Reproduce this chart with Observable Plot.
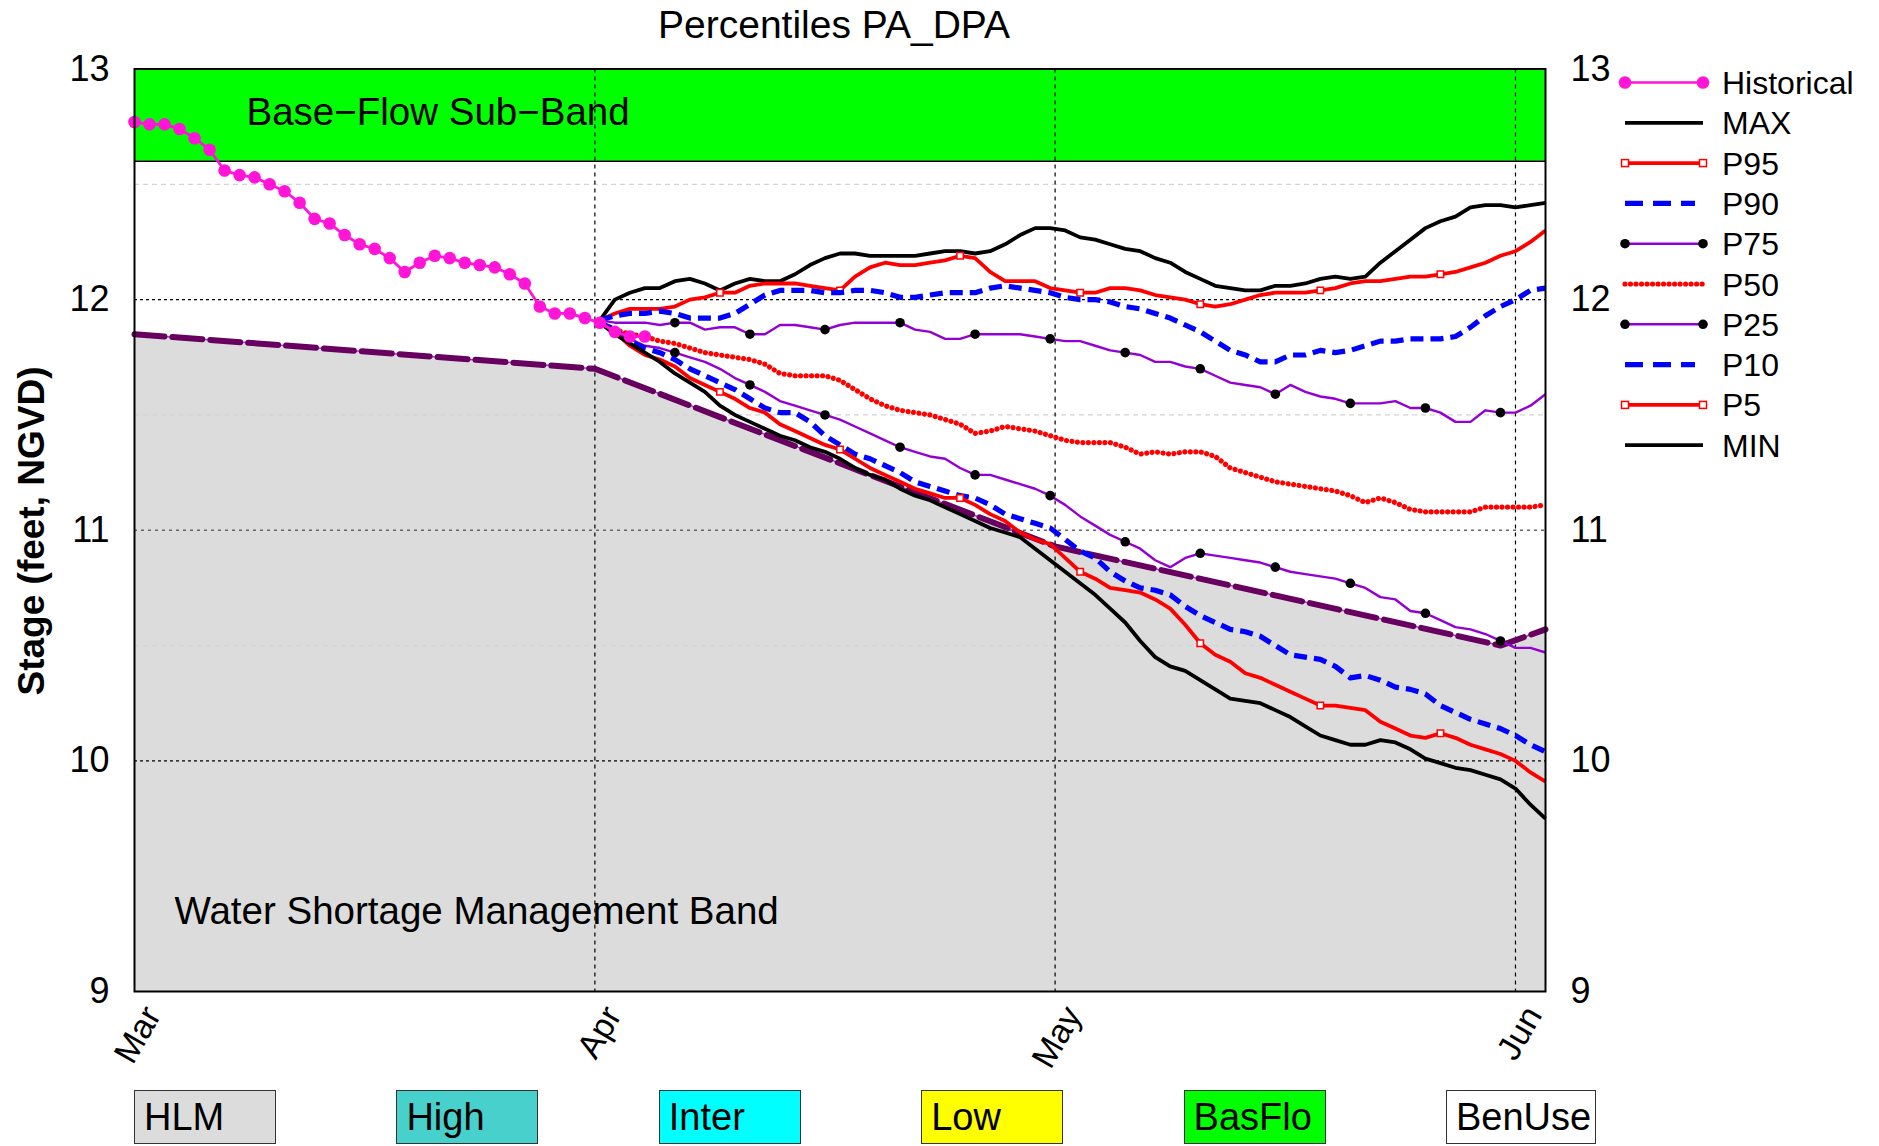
<!DOCTYPE html>
<html><head><meta charset="utf-8">
<script src="https://cdn.jsdelivr.net/npm/d3@7"></script>
<script src="https://cdn.jsdelivr.net/npm/@observablehq/plot@0.6"></script>
<style>
body{margin:0;background:#fff;}
#wrap{position:relative;width:1879px;height:1146px;overflow:hidden;font-family:"Liberation Sans",Arial,sans-serif;background:#fff;}
#title{position:absolute;left:0;top:5px;width:1668px;text-align:center;font-size:39px;line-height:39px;}
#ylab{position:absolute;left:-168px;top:511px;width:400px;height:40px;line-height:40px;text-align:center;font-size:37px;font-weight:bold;transform:rotate(-90deg);}
#chart{position:absolute;left:0;top:0;}
#legend{position:absolute;left:1600px;top:55px;}
.box{position:absolute;top:1090px;height:54px;box-sizing:border-box;min-width:142px;padding:0 4px 0 9px;border:1.5px solid #333;font-size:38px;line-height:52px;white-space:nowrap;}
</style></head>
<body>
<div id="wrap">
  <div id="chart"></div>
  <div id="title">Percentiles PA_DPA</div>
  <div id="ylab">Stage (feet, NGVD)</div>
  <div id="legend"></div>
  <div id="boxes"></div>
</div>
<script>
// ---------- data ----------
const monthLabels = ["Mar", "Apr", "May", "Jun"];
const monthTickDays = [0, 30.67, 61.33, 92];   // equally spaced month ticks (days since Mar 1)
const xStart = 0, xEnd = 94;
const stageTicks = [9, 10, 11, 12, 13];
const minorGrid = [12.5, 11.5, 10.5];
const baseFlowBand = [{lo: 12.6, hi: 13.0}];

// water shortage management band upper edge
const wsmDays  = [0, 30.67, 61.33, 91, 94];
const wsmStage = [11.85, 11.70, 10.93, 10.50, 10.57];

// historical (daily from Mar 1)
const histStage = [12.77, 12.76, 12.76, 12.74, 12.70, 12.65, 12.56, 12.54, 12.53, 12.50,
  12.47, 12.42, 12.35, 12.33, 12.28, 12.24, 12.22, 12.18, 12.12, 12.16,
  12.19, 12.18, 12.16, 12.15, 12.14, 12.11, 12.07, 11.97, 11.94, 11.94,
  11.92, 11.90, 11.86, 11.84, 11.84];

// percentiles (daily from day 31)
const pctStartDay = 31;
const maxStage = [11.91, 12.00, 12.03, 12.05, 12.05, 12.08, 12.09, 12.07, 12.04, 12.07,
  12.09, 12.08, 12.08, 12.11, 12.15, 12.18, 12.20, 12.20, 12.19, 12.19,
  12.19, 12.19, 12.20, 12.21, 12.21, 12.20, 12.21, 12.24, 12.28, 12.31,
  12.31, 12.30, 12.27, 12.26, 12.24, 12.22, 12.21, 12.18, 12.16, 12.12,
  12.09, 12.06, 12.05, 12.04, 12.04, 12.06, 12.06, 12.07, 12.09, 12.10,
  12.09, 12.10, 12.16, 12.21, 12.26, 12.31, 12.34, 12.36, 12.40, 12.41,
  12.41, 12.40, 12.41, 12.42];
const p95Stage = [11.91, 11.94, 11.96, 11.96, 11.96, 11.97, 12.00, 12.01, 12.03, 12.03,
  12.06, 12.07, 12.07, 12.07, 12.06, 12.05, 12.04, 12.10, 12.14, 12.16,
  12.15, 12.15, 12.16, 12.17, 12.19, 12.18, 12.12, 12.08, 12.08, 12.08,
  12.05, 12.04, 12.03, 12.03, 12.05, 12.05, 12.04, 12.02, 12.01, 12.00,
  11.98, 11.97, 11.98, 12.00, 12.02, 12.03, 12.03, 12.03, 12.04, 12.05,
  12.07, 12.08, 12.08, 12.09, 12.10, 12.10, 12.11, 12.12, 12.14, 12.16,
  12.19, 12.21, 12.25, 12.30];
const p90Stage = [11.91, 11.93, 11.94, 11.94, 11.95, 11.94, 11.92, 11.92, 11.92, 11.94,
  11.98, 12.02, 12.04, 12.04, 12.04, 12.03, 12.03, 12.04, 12.04, 12.03,
  12.01, 12.01, 12.02, 12.03, 12.03, 12.03, 12.05, 12.06, 12.05, 12.04,
  12.03, 12.01, 12.00, 12.00, 11.99, 11.97, 11.96, 11.94, 11.92, 11.89,
  11.86, 11.82, 11.78, 11.76, 11.73, 11.73, 11.76, 11.76, 11.78, 11.77,
  11.78, 11.80, 11.82, 11.82, 11.83, 11.83, 11.83, 11.84, 11.88, 11.93,
  11.97, 12.00, 12.04, 12.05];
const p75Stage = [11.91, 11.90, 11.90, 11.90, 11.89, 11.90, 11.90, 11.87, 11.88, 11.88,
  11.85, 11.85, 11.89, 11.89, 11.88, 11.87, 11.89, 11.90, 11.90, 11.90,
  11.90, 11.87, 11.86, 11.83, 11.83, 11.85, 11.85, 11.85, 11.85, 11.84,
  11.83, 11.82, 11.82, 11.80, 11.78, 11.77, 11.76, 11.73, 11.73, 11.71,
  11.70, 11.67, 11.64, 11.63, 11.62, 11.59, 11.63, 11.60, 11.58, 11.57,
  11.55, 11.55, 11.55, 11.56, 11.53, 11.53, 11.51, 11.47, 11.47, 11.52,
  11.51, 11.51, 11.54, 11.59];
const p50Stage = [11.90, 11.87, 11.85, 11.84, 11.82, 11.81, 11.79, 11.77, 11.76, 11.75,
  11.74, 11.72, 11.68, 11.67, 11.67, 11.67, 11.65, 11.61, 11.57, 11.54,
  11.52, 11.51, 11.50, 11.48, 11.46, 11.42, 11.43, 11.45, 11.44, 11.43,
  11.41, 11.39, 11.38, 11.38, 11.38, 11.36, 11.33, 11.34, 11.33, 11.34,
  11.34, 11.32, 11.27, 11.25, 11.23, 11.21, 11.20, 11.19, 11.18, 11.17,
  11.15, 11.12, 11.14, 11.12, 11.09, 11.08, 11.08, 11.08, 11.08, 11.10,
  11.10, 11.10, 11.10, 11.11];
const p25Stage = [11.90, 11.86, 11.83, 11.80, 11.79, 11.77, 11.75, 11.73, 11.70, 11.66,
  11.63, 11.60, 11.56, 11.54, 11.52, 11.50, 11.48, 11.45, 11.42, 11.39,
  11.36, 11.34, 11.32, 11.31, 11.27, 11.24, 11.24, 11.22, 11.20, 11.18,
  11.15, 11.11, 11.06, 11.02, 10.98, 10.95, 10.92, 10.87, 10.84, 10.88,
  10.90, 10.89, 10.88, 10.87, 10.86, 10.84, 10.82, 10.81, 10.80, 10.79,
  10.77, 10.75, 10.71, 10.70, 10.65, 10.64, 10.61, 10.58, 10.57, 10.55,
  10.52, 10.49, 10.49, 10.47];
const p10Stage = [11.90, 11.87, 11.82, 11.79, 11.77, 11.74, 11.70, 11.67, 11.64, 11.61,
  11.57, 11.53, 11.51, 11.51, 11.47, 11.41, 11.37, 11.33, 11.31, 11.28,
  11.25, 11.21, 11.19, 11.17, 11.15, 11.14, 11.11, 11.07, 11.05, 11.03,
  11.01, 10.96, 10.91, 10.88, 10.82, 10.78, 10.75, 10.74, 10.72, 10.67,
  10.63, 10.60, 10.57, 10.56, 10.54, 10.50, 10.46, 10.45, 10.44, 10.41,
  10.36, 10.37, 10.35, 10.32, 10.31, 10.29, 10.24, 10.21, 10.18, 10.16,
  10.14, 10.11, 10.07, 10.04];
const p5Stage = [11.90, 11.86, 11.80, 11.76, 11.74, 11.71, 11.66, 11.63, 11.60, 11.57,
  11.53, 11.51, 11.46, 11.43, 11.40, 11.37, 11.35, 11.31, 11.27, 11.24,
  11.21, 11.18, 11.16, 11.14, 11.14, 11.11, 11.07, 11.04, 10.99, 10.96,
  10.94, 10.88, 10.82, 10.79, 10.75, 10.74, 10.73, 10.70, 10.66, 10.59,
  10.51, 10.46, 10.43, 10.38, 10.36, 10.33, 10.30, 10.27, 10.24, 10.24,
  10.23, 10.22, 10.17, 10.14, 10.11, 10.10, 10.12, 10.10, 10.07, 10.05,
  10.03, 10.00, 9.95, 9.91];
const minStage = [11.90, 11.85, 11.81, 11.77, 11.73, 11.68, 11.64, 11.60, 11.54, 11.50,
  11.47, 11.44, 11.41, 11.39, 11.36, 11.34, 11.31, 11.27, 11.24, 11.22,
  11.18, 11.15, 11.13, 11.10, 11.07, 11.04, 11.01, 10.99, 10.97, 10.92,
  10.87, 10.82, 10.77, 10.72, 10.66, 10.60, 10.52, 10.45, 10.41, 10.39,
  10.35, 10.31, 10.27, 10.26, 10.25, 10.22, 10.19, 10.15, 10.11, 10.09,
  10.07, 10.07, 10.09, 10.08, 10.05, 10.01, 9.99, 9.97, 9.96, 9.94,
  9.92, 9.88, 9.81, 9.75];

const legendNames = ["Historical", "MAX", "P95", "P90", "P75", "P50", "P25", "P10", "P5", "MIN"];
const bandNames = ["HLM", "High", "Inter", "Low", "BasFlo", "BenUse"];
const bandColors = ["#dcdcdc", "#48d1cc", "#00ffff", "#ffff00", "#00ff00", "#ffffff"];

// ---------- styles ----------
const MAG = "#ff14d8", RED = "#ff0000", BLUE = "#0000ff", PURP = "#9400d3";
const styles = {
  Historical: {stroke: MAG, width: 2.5, marker: "histdot"},
  MAX: {stroke: "black", width: 3.8},
  P95: {stroke: RED, width: 3.8, marker: "square", every: 8},
  P90: {stroke: BLUE, width: 5.2, dash: "13,7"},
  P75: {stroke: PURP, width: 2.4, marker: "dot", every: 5},
  P50: {stroke: RED, width: 5.2, dash: "0.01,5.5", cap: "round"},
  P25: {stroke: PURP, width: 2.4, marker: "dot", every: 5},
  P10: {stroke: BLUE, width: 5.2, dash: "13,7"},
  P5:  {stroke: RED, width: 3.8, marker: "square", every: 8},
  MIN: {stroke: "black", width: 3.8}
};

const toSeries = (vals, start) => vals.map((v, i) => ({day: start + i, stage: v, i}));
const hist = toSeries(histStage, 0);
const wsm = wsmDays.map((d, i) => ({day: d, stage: wsmStage[i]}));
const pctSeries = {
  MAX: toSeries(maxStage, pctStartDay), P95: toSeries(p95Stage, pctStartDay),
  P90: toSeries(p90Stage, pctStartDay), P75: toSeries(p75Stage, pctStartDay),
  P50: toSeries(p50Stage, pctStartDay), P25: toSeries(p25Stage, pctStartDay),
  P10: toSeries(p10Stage, pctStartDay), P5: toSeries(p5Stage, pctStartDay),
  MIN: toSeries(minStage, pctStartDay)
};

// ---------- marks ----------
const marks = [
  Plot.rect(baseFlowBand, {x1: () => xStart, x2: () => xEnd, y1: "lo", y2: "hi", fill: "#00ff00"}),
  Plot.ruleY(baseFlowBand, {y: "lo", stroke: "black", strokeWidth: 1.3}),
  Plot.areaY(wsm, {x: "day", y1: () => stageTicks[0], y2: "stage", fill: "#dcdcdc"}),
  Plot.ruleY(minorGrid, {stroke: "#d4d4d4", strokeWidth: 1.2, strokeDasharray: "5,4"}),
  Plot.ruleY(stageTicks.filter(t => t === 12 || t === 10), {stroke: "black", strokeWidth: 1.2, strokeDasharray: "3,3"}),
  Plot.ruleY(stageTicks.filter(t => t === 11), {stroke: "#666", strokeWidth: 1.6, strokeDasharray: "3,4"}),
  Plot.ruleX(monthTickDays.slice(1), {stroke: "black", strokeWidth: 1.2, strokeDasharray: "4,4"}),
  Plot.line(wsm, {x: "day", y: "stage", stroke: "#a040d0", strokeWidth: 1.5}),
  Plot.line(wsm, {x: "day", y: "stage", stroke: "#680060", strokeWidth: 6, strokeDasharray: "30,8"}),
  Plot.text(["Base\u2212Flow Sub\u2212Band"], {frameAnchor: "top-left", dx: 112, dy: 29, textAnchor: "start", fontSize: 38.5, fill: "black"}),
  Plot.text(["Water Shortage Management Band"], {frameAnchor: "bottom-left", dx: 40, dy: -68, textAnchor: "start", fontSize: 38.5, fill: "black"})
];

for (const name of ["MAX", "P95", "P90", "P75", "P50", "P25", "P10", "P5", "MIN"]) {
  const st = styles[name], data = pctSeries[name];
  marks.push(Plot.line(data, {x: "day", y: "stage", stroke: st.stroke, strokeWidth: st.width,
    strokeDasharray: st.dash, strokeLinecap: st.cap || "butt", strokeLinejoin: "round"}));
  if (st.marker === "dot") {
    marks.push(Plot.dot(data.filter(d => d.i > 0 && d.i % st.every === 0), {x: "day", y: "stage", r: 4.8, fill: "black"}));
  } else if (st.marker === "square") {
    marks.push(Plot.dot(data.filter(d => d.i > 0 && d.i % st.every === 0), {x: "day", y: "stage", symbol: "square", r: 3.6, fill: "white", stroke: RED, strokeWidth: 1.5}));
  }
}
marks.push(
  Plot.line(hist, {x: "day", y: "stage", stroke: MAG, strokeWidth: 2.8}),
  Plot.dot(hist, {x: "day", y: "stage", r: 6.3, fill: MAG}),
  Plot.frame({stroke: "black", strokeWidth: 2}),
  Plot.axisY({ticks: stageTicks, tickFormat: d3.format("d"), anchor: "left", tickSize: 0, tickPadding: 25, fontSize: 36, label: null}),
  Plot.axisY({ticks: stageTicks, tickFormat: d3.format("d"), anchor: "right", tickSize: 0, tickPadding: 25, fontSize: 36, label: null}),
  Plot.axisX({ticks: monthTickDays, tickFormat: d => monthLabels[monthTickDays.indexOf(d)], tickRotate: -60,
    tickSize: 0, tickPadding: 18, dx: 18, fontSize: 34, label: null})
);

const chart = Plot.plot({
  width: 1879, height: 1090,
  marginLeft: 134, marginRight: 334, marginTop: 68.5, marginBottom: 99,
  x: {domain: [xStart, xEnd], type: "linear"},
  y: {domain: [stageTicks[0], stageTicks[stageTicks.length - 1]]},
  style: {fontFamily: "'Liberation Sans', Arial, sans-serif", background: "transparent", color: "black"},
  marks
});
document.getElementById("chart").appendChild(chart);

// ---------- right legend ----------
const leg = d3.select("#legend").append("svg").attr("width", 279).attr("height", 420)
  .style("font-family", "'Liberation Sans', Arial, sans-serif");
legendNames.forEach((name, i) => {
  const st = styles[name];
  const y = 27.5 + 40.3 * i;
  const x1 = 25, x2 = name === "P90" || name === "P10" ? 95 : 103;
  leg.append("line").attr("x1", x1).attr("x2", x2).attr("y1", y).attr("y2", y)
    .attr("stroke", st.stroke).attr("stroke-width", st.width)
    .attr("stroke-dasharray", st.dash === "13,7" ? "18,10" : (st.dash || null))
    .attr("stroke-linecap", st.cap || "butt");
  for (const xx of [x1, x2]) {
    if (st.marker === "histdot") leg.append("circle").attr("cx", xx).attr("cy", y).attr("r", 6.3).attr("fill", MAG);
    if (st.marker === "dot") leg.append("circle").attr("cx", xx).attr("cy", y).attr("r", 4.8).attr("fill", "black");
    if (st.marker === "square") leg.append("rect").attr("x", xx - 3.5).attr("y", y - 3.5).attr("width", 7).attr("height", 7)
      .attr("fill", "white").attr("stroke", RED).attr("stroke-width", 1.5);
  }
  leg.append("text").attr("x", 122).attr("y", y).attr("dy", "0.36em").attr("font-size", 32).attr("fill", "black").text(name);
});

// ---------- bottom band legend ----------
const boxes = d3.select("#boxes");
bandNames.forEach((name, i) => {
  boxes.append("div").attr("class", "box")
    .style("left", (134 + i * 262.4) + "px")
    .style("background", bandColors[i])
    .text(name);
});
</script>
</body></html>
